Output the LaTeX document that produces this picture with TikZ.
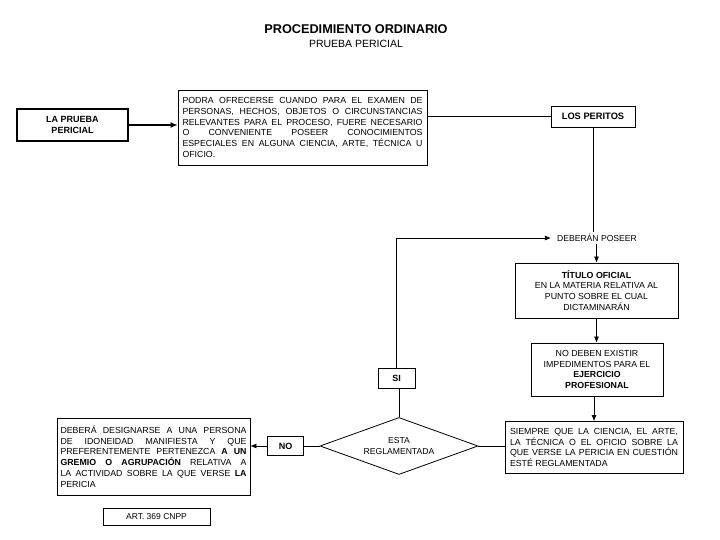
\documentclass[tikz,border=0pt]{standalone}
\usepackage{fontspec}
\setmainfont{Liberation Sans}
\usetikzlibrary{shapes.geometric,arrows.meta}
\begin{document}
\begin{tikzpicture}[x=1pt,y=-1pt,
  box/.style={draw,line width=0.8pt,inner sep=2pt,font=\fontsize{8.8}{10.8}\selectfont},
  con/.style={line width=0.7pt},
  arr/.style={line width=0.7pt,-{Latex[length=6pt,width=5pt]}},
  tiny/.style={font=\fontsize{8.6}{10.6}\selectfont}]
\useasboundingbox (0,0) rectangle (720,540);
\fill[white] (0,0) rectangle (720,540);
\node[font=\fontsize{12.7}{14}\selectfont\bfseries] (title) at (356,29) {PROCEDIMIENTO ORDINARIO};
\node[font=\fontsize{10.5}{12}\selectfont] (sub) at (356,44) {PRUEBA PERICIAL};

\node[box,line width=1.2pt,minimum width=111pt,minimum height=32pt,align=center,font=\fontsize{9}{11.5}\selectfont\bfseries] (lp) at (72.5,125) {LA PRUEBA\\PERICIAL};

\node[box,minimum width=249pt,minimum height=75pt,text width=240pt,align=justify] (desc) at (302.5,127.5)
{PODRA OFRECERSE CUANDO PARA EL EXAMEN DE\linebreak
PERSONAS, HECHOS, OBJETOS O CIRCUNSTANCIAS\linebreak
RELEVANTES PARA EL PROCESO, FUERE NECESARIO\linebreak
O CONVENIENTE POSEER CONOCIMIENTOS\linebreak
ESPECIALES EN ALGUNA CIENCIA, ARTE, TÉCNICA U\linebreak
OFICIO.};

\node[box,minimum width=84pt,minimum height=21pt,font=\fontsize{9.3}{10}\selectfont\bfseries] (peritos) at (593,116.5) {LOS PERITOS};

\node[tiny,inner sep=2pt] (deb) at (597,238) {DEBERÁN POSEER};

\node[box,minimum width=163pt,minimum height=55pt,align=center] (titulo) at (596.5,290.5)
{\textbf{TÍTULO OFICIAL}\\EN LA MATERIA RELATIVA AL\\PUNTO SOBRE EL CUAL\\DICTAMINARÁN};

\node[box,minimum width=132pt,minimum height=53pt,align=center] (imped) at (597,369.5)
{NO DEBEN EXISTIR\\IMPEDIMENTOS PARA EL\\\textbf{EJERCICIO}\\\textbf{PROFESIONAL}};

\node[box,minimum width=178pt,minimum height=52pt,text width=168pt,align=justify,font=\fontsize{8.8}{10.4}\selectfont] (siempre) at (594,447.5)
{SIEMPRE QUE LA CIENCIA, EL ARTE,\linebreak
LA TÉCNICA O EL OFICIO SOBRE LA\linebreak
QUE VERSE LA PERICIA EN CUESTIÓN\linebreak
ESTÉ REGLAMENTADA};

\node[draw,line width=0.8pt,diamond,aspect=2.77,minimum width=158pt,minimum height=57pt,inner sep=0pt,align=center,tiny] (dia) at (399,446) {ESTA\\REGLAMENTADA};

\node[box,minimum width=37pt,minimum height=20pt,font=\fontsize{9}{10}\selectfont\bfseries] (si) at (396.5,378) {SI};
\node[box,minimum width=36pt,minimum height=19pt,font=\fontsize{9}{10}\selectfont\bfseries] (no) at (285.5,446) {NO};

\node[box,minimum width=193pt,minimum height=77pt,text width=186pt,align=justify] (left) at (153.5,456.5)
{DEBERÁ DESIGNARSE A UNA PERSONA\linebreak
DE IDONEIDAD MANIFIESTA Y QUE\linebreak
PREFERENTEMENTE PERTENEZCA \textbf{A UN}\linebreak
\textbf{GREMIO O AGRUPACIÓN} RELATIVA A\linebreak
LA ACTIVIDAD SOBRE LA QUE VERSE \textbf{LA}\linebreak
PERICIA};

\node[box,minimum width=107pt,minimum height=17pt,font=\fontsize{8.5}{9}\selectfont] (art) at (156.5,516.5) {ART. 369 CNPP};

% connectors
\draw[line width=1.4pt,-{Latex[length=7pt,width=6pt]}] (lp.east) -- (lp.east -| desc.west);
\draw[con] (desc.east |- peritos.west) -- (peritos.west);
\draw[con] (peritos.south) -- (peritos.south |- deb.north);
\draw[arr] (titulo.north |- deb.south) -- (titulo.north);
\draw[arr] (titulo.south) -- (titulo.south |- imped.north);
\draw[arr] (siempre.north |- imped.south) -- (siempre.north);
\draw[con] (siempre.west |- dia.east) -- (dia.east);
\draw[con] (dia.north) -- (dia.north |- si.south);
\draw[arr] (si.north) -- (si.north |- deb.west) -- ([xshift=-4pt]deb.west);
\draw[con] (dia.west) -- (no.east);
\draw[arr] (no.west) -- (no.west -| left.east);
\end{tikzpicture}
\end{document}
